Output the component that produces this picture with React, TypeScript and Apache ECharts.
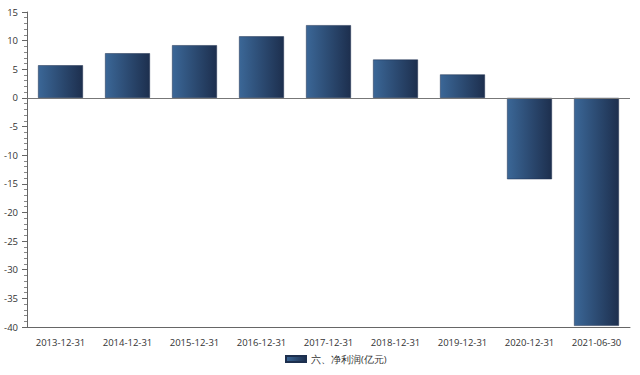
import React, { useEffect, useRef } from "react";
import * as echarts from "echarts";

const categories = ["2013-12-31", "2014-12-31", "2015-12-31", "2016-12-31", "2017-12-31", "2018-12-31", "2019-12-31", "2020-12-31", "2021-06-30"];
const netProfit = [5.7, 7.8, 9.2, 10.75, 12.7, 6.7, 4.1, -14.2, -39.8];
const seriesName = "六、净利润(亿元)";

export default function App() {
  const ref = useRef<HTMLDivElement>(null);
  useEffect(() => {
    const chart = echarts.init(ref.current!, null, { renderer: "svg" });
    const grad = new echarts.graphic.LinearGradient(0, 0, 1, 0, [
      { offset: 0, color: "#3b6797" },
      { offset: 1, color: "#1d2f4e" },
    ]);
    chart.setOption({
      animation: false,
      textStyle: { fontFamily: "Open Sans" },
      grid: { left: 27, right: 10, top: 12, bottom: 48, containLabel: false },
      legend: {
        bottom: 6,
        left: 280,
        icon: "rect",
        itemWidth: 20,
        itemHeight: 6,
        itemGap: 8,
        textStyle: { fontSize: 9.5, color: "#333" },
        data: [seriesName],
      },
      xAxis: {
        type: "category",
        data: categories,
        axisLine: { onZero: false, lineStyle: { color: "#666" } },
        axisTick: { alignWithLabel: true, length: 5, lineStyle: { color: "#666" } },
        axisLabel: { fontSize: 9.5, color: "#333", margin: 10, interval: 0 },
      },
      yAxis: {
        type: "value",
        min: -40,
        max: 15,
        interval: 5,
        axisLine: { show: true, lineStyle: { color: "#666" } },
        axisTick: { show: true, length: 5, lineStyle: { color: "#666" } },
        minorTick: { show: true, splitNumber: 5, length: 3, lineStyle: { color: "#888" } },
        splitLine: { show: false },
        axisLabel: { fontSize: 9.5, color: "#333", margin: 9 },
      },
      series: [
        {
          name: seriesName,
          type: "bar",
          data: netProfit,
          barWidth: "67%",
          itemStyle: { color: grad, borderColor: "#1d2f4e", borderWidth: 0.5 },
          markLine: {
            silent: true,
            symbol: "none",
            label: { show: false },
            lineStyle: { color: "#777", type: "solid", width: 1 },
            data: [{ yAxis: 0 }],
          },
        },
      ],
    });
    return () => chart.dispose();
  }, []);
  return <div ref={ref} style={{ width: 640, height: 375, position: "absolute", left: 0, top: 0 }} />;
}
